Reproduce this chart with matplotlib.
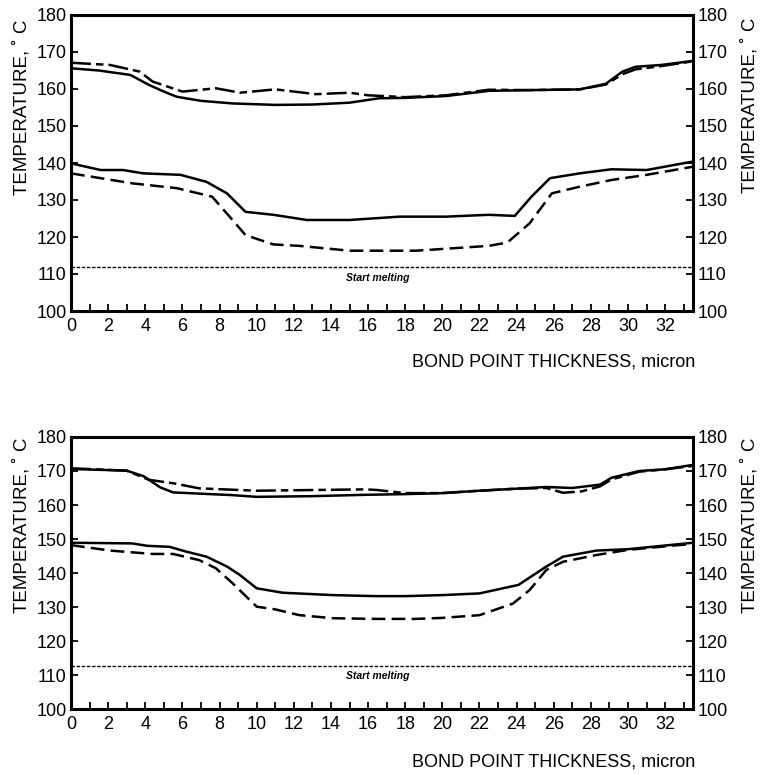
import matplotlib
matplotlib.use('Agg')
import matplotlib.pyplot as plt
from matplotlib.ticker import MultipleLocator

plt.rcParams['font.family'] = ['Liberation Sans', 'DejaVu Sans']

# ---- top panel ----
t_us_x = [0, 1.5, 3.2, 4.2, 5.0, 5.7, 7, 8.7, 11, 13, 15, 16.6, 18, 20.2, 22.5, 24.7, 27.4, 28.8, 29.7, 30.4, 31.8, 33.5]
t_us_y = [165.6, 165, 163.8, 161.1, 159.3, 157.9, 156.8, 156.1, 155.7, 155.8, 156.3, 157.5, 157.6, 158.1, 159.5, 159.7, 159.9, 161.4, 164.7, 166, 166.5, 167.6]

t_ud_x = [0, 2.1, 3.7, 4.4, 6, 7.8, 9.1, 11, 13.2, 15, 16, 18, 20.2, 22.5, 24.7, 27.4, 28.8, 29.7, 30.4, 31.8, 33.5]
t_ud_y = [167.1, 166.5, 164.7, 162, 159.3, 160.2, 159, 159.9, 158.6, 159, 158.3, 157.8, 158.3, 159.8, 159.7, 159.9, 161.2, 164, 165.3, 166.2, 167.5]

t_ls_x = [0, 1.6, 2.8, 3.9, 5.9, 7.3, 8.4, 9.4, 10.9, 12.7, 15, 17.7, 20.2, 22.5, 23.9, 24.8, 25.8, 27.4, 29.1, 31, 33.5]
t_ls_y = [139.9, 138.1, 138.1, 137.2, 136.8, 134.9, 131.8, 126.8, 126, 124.6, 124.6, 125.5, 125.5, 126, 125.7, 130.9, 135.9, 137.2, 138.3, 138.1, 140.4]

t_ld_x = [0, 3.3, 5.7, 7.6, 8.7, 9.4, 10.9, 12.3, 15, 18.6, 21.3, 22.5, 23.5, 24.7, 25.9, 27.4, 29.1, 31, 33.5]
t_ld_y = [137.2, 134.5, 133.2, 130.9, 124.6, 120.5, 118, 117.6, 116.3, 116.3, 117.2, 117.6, 118.5, 123.7, 131.8, 133.6, 135.4, 136.8, 139]

t_melt = 112

# ---- bottom panel ----
b_us_x = [0, 3, 3.9, 4.8, 5.5, 8.7, 10, 13, 15.9, 18, 20, 22, 24, 25.6, 27, 28.5, 29.1, 30.6, 32, 33.5]
b_us_y = [170.6, 170.1, 168.5, 165.2, 163.7, 162.9, 162.4, 162.6, 163, 163.2, 163.5, 164.2, 164.8, 165.3, 165, 166, 168, 170, 170.5, 171.8]

b_ud_x = [0, 3, 4.2, 5.5, 6.9, 10, 15.9, 16.5, 18, 20, 22, 24, 25.6, 26.5, 27.5, 28.5, 29.1, 30.6, 32, 33.5]
b_ud_y = [170.8, 170.1, 167.4, 166.4, 164.9, 164.2, 164.6, 164.4, 163.5, 163.5, 164.2, 164.8, 165, 163.6, 164, 165.5, 167.5, 169.8, 170.5, 171.5]

b_ls_x = [0, 3.3, 4.1, 5.3, 6.2, 7.3, 8.4, 9.1, 10, 11.4, 14.1, 16.4, 18, 20, 22, 24.1, 25.6, 26.5, 28.3, 30, 33.5]
b_ls_y = [148.9, 148.7, 148, 147.7, 146.3, 144.8, 141.9, 139.4, 135.5, 134.2, 133.5, 133.2, 133.2, 133.5, 134, 136.5, 141.9, 144.8, 146.6, 147, 148.9]

b_ld_x = [0, 2.1, 4.4, 5.5, 6.9, 7.8, 8.7, 10, 11, 12.3, 14.1, 16.4, 18.6, 20, 22, 23.8, 24.7, 25.6, 26.5, 28.3, 30, 32.7, 33.5]
b_ld_y = [148.2, 146.6, 145.6, 145.6, 143.8, 141.4, 137, 130.1, 129.3, 127.6, 126.7, 126.5, 126.5, 126.8, 127.6, 131, 135, 140.9, 143.3, 145.3, 146.8, 148.2, 148.5]

b_melt = 112.6

xlab = 'BOND POINT THICKNESS, micron'
ylab = 'TEMPERATURE, \u02da C'

W, H = 761, 775
fig = plt.figure(figsize=(W/100., H/100.), dpi=100)

def panel(rect, us, ud, ls, ld, melt):
    ax = fig.add_axes(rect)
    ax.plot(us[0], us[1], 'k-', lw=1.8)
    ax.plot(ud[0], ud[1], 'k-', lw=1.8, dashes=(8, 2, 3, 2))
    ax.plot(ls[0], ls[1], 'k-', lw=1.8)
    ax.plot(ld[0], ld[1], 'k-', lw=1.8, dashes=(5.5, 2.5))
    ax.axhline(melt, color='k', lw=1.0, dashes=(2.5, 1.2))
    ax.text(16.5, melt - 3.0, 'Start melting', ha='center', va='center',
            fontsize=7.5, fontweight='bold', style='italic')
    ax.set_xlim(0, 33.5)
    ax.set_ylim(100, 180)
    ax.xaxis.set_major_locator(MultipleLocator(2))
    ax.xaxis.set_minor_locator(MultipleLocator(1))
    ax.yaxis.set_major_locator(MultipleLocator(10))
    ax.tick_params(which='both', direction='in', top=False, right=True,
                   labelright=True, labelsize=13, width=1.3, length=5, pad=3)
    ax.tick_params(axis='x', pad=5)
    for s in ax.spines.values():
        s.set_linewidth(2.2)
    return ax

ax1 = panel([71/W, 1-311/H, 622/W, 296/H], (t_us_x, t_us_y), (t_ud_x, t_ud_y),
            (t_ls_x, t_ls_y), (t_ld_x, t_ld_y), t_melt)
ax2 = panel([71/W, 1-709/H, 622/W, 272/H], (b_us_x, b_us_y), (b_ud_x, b_ud_y),
            (b_ls_x, b_ls_y), (b_ld_x, b_ld_y), b_melt)

fig.text(695/W, 1-362/H, xlab, ha='right', va='center', fontsize=13)
fig.text(695/W, 1-762/H, xlab, ha='right', va='center', fontsize=13)

fig.text(22/W, 1-107/H, ylab, rotation=90, ha='center', va='center', fontsize=13.5)
fig.text(750/W, 1-105/H, ylab, rotation=90, ha='center', va='center', fontsize=13.5)
fig.text(22/W, 1-525/H, ylab, rotation=90, ha='center', va='center', fontsize=13.5)
fig.text(750/W, 1-525/H, ylab, rotation=90, ha='center', va='center', fontsize=13.5)

fig.savefig('out.png', dpi=100)
